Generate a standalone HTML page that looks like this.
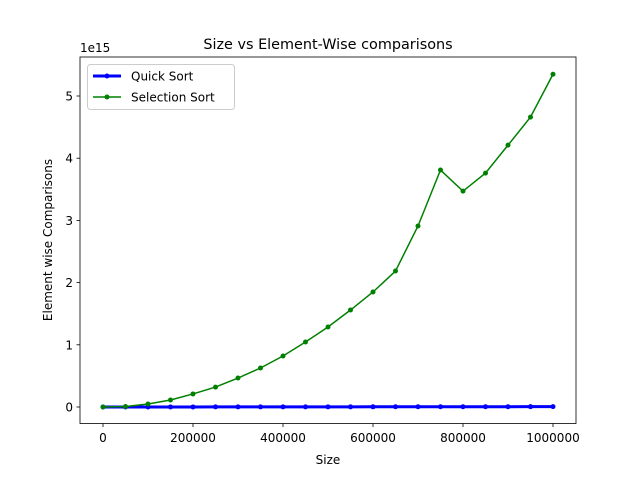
<!DOCTYPE html>
<html><head><meta charset="utf-8"><style>
html,body{margin:0;padding:0;background:#fff;}
text{font-family:"DejaVu Sans","Liberation Sans",sans-serif;fill:#000;}
</style></head><body>
<svg id="chart" width="640" height="476" xmlns="http://www.w3.org/2000/svg">
<rect width="640" height="476" fill="#fff"/>
<text x="328" y="49" font-size="14.4" text-anchor="middle">Size vs Element-Wise comparisons</text>
<g id="plot"></g>
<rect x="80" y="57" width="496" height="366.5" fill="none" stroke="#000" stroke-width="0.8"/>
<text x="328" y="464" font-size="12" text-anchor="middle">Size</text>
<text transform="translate(52,240) rotate(-90)" font-size="12" text-anchor="middle">Element wise Comparisons</text>
<text x="80" y="52" font-size="12">1e15</text>
<g>
<rect x="87.5" y="64.5" width="147" height="45" rx="3" fill="#fff" fill-opacity="0.8" stroke="#ccc"/>
<line x1="93" y1="76" x2="121" y2="76" stroke="#0000ff" stroke-width="3"/>
<circle cx="107" cy="76" r="2.5" fill="#0000ff"/>
<text x="131" y="80.5" font-size="12">Quick Sort</text>
<line x1="93" y1="97" x2="121" y2="97" stroke="#008000" stroke-width="1.5"/>
<circle cx="107" cy="97" r="2.5" fill="#008000"/>
<text x="131" y="101.5" font-size="12">Selection Sort</text>
</g>
</svg>
<script>
const sizes=[0,50000,100000,150000,200000,250000,300000,350000,400000,450000,500000,550000,600000,650000,700000,750000,800000,850000,900000,950000,1000000];
const selectionSort=[0,0.008,0.048,0.113,0.21,0.32,0.466,0.627,0.82,1.045,1.286,1.559,1.849,2.186,2.91,3.81,3.47,3.76,4.21,4.66,5.35];
const quickSort=[0,0.0,0.0005,0.0008,0.001,0.0013,0.0016,0.002,0.0022,0.0025,0.0028,0.003,0.0033,0.0036,0.004,0.0042,0.0045,0.0048,0.005,0.0053,0.0056];
const xTicks=[0,200000,400000,600000,800000,1000000];
const yTicks=[0,1,2,3,4,5];
const NS="http://www.w3.org/2000/svg";
const g=document.getElementById('plot');
const xs=v=>103+v*(450/1000000);
const ys=v=>407-v*62.2;
function el(t,a){const e=document.createElementNS(NS,t);for(const k in a)e.setAttribute(k,a[k]);g.appendChild(e);return e;}
xTicks.forEach(t=>{
 const l=el('line',{x1:xs(t),x2:xs(t),y1:423.5,y2:427,stroke:'#000','stroke-width':0.8});
 
 
 const tx=el('text',{x:xs(t),y:442,'font-size':12,'text-anchor':'middle'});tx.textContent=String(t);
 
 
});
yTicks.forEach(t=>{
 const l=el('line',{x1:76.5,x2:80,y1:ys(t),y2:ys(t),stroke:'#000','stroke-width':0.8});
 
 
 const tx=el('text',{x:73,y:ys(t)+4.5,'font-size':12,'text-anchor':'end'});tx.textContent=String(t);
 
 
});
function series(vals,color,w,name){
 const pts=sizes.map((s,i)=>xs(s)+','+ys(vals[i])).join(' ');
 const p=el('polyline',{points:pts,fill:'none',stroke:color,'stroke-width':w});
 
 
 sizes.forEach((s,i)=>{
  const c=el('circle',{cx:xs(s),cy:ys(vals[i]),r:2.5,fill:color});
  
  
 });
}
series(quickSort,'#0000ff',3,'quick-sort');
series(selectionSort,'#008000',1.5,'selection-sort');
</script>
</body></html>
